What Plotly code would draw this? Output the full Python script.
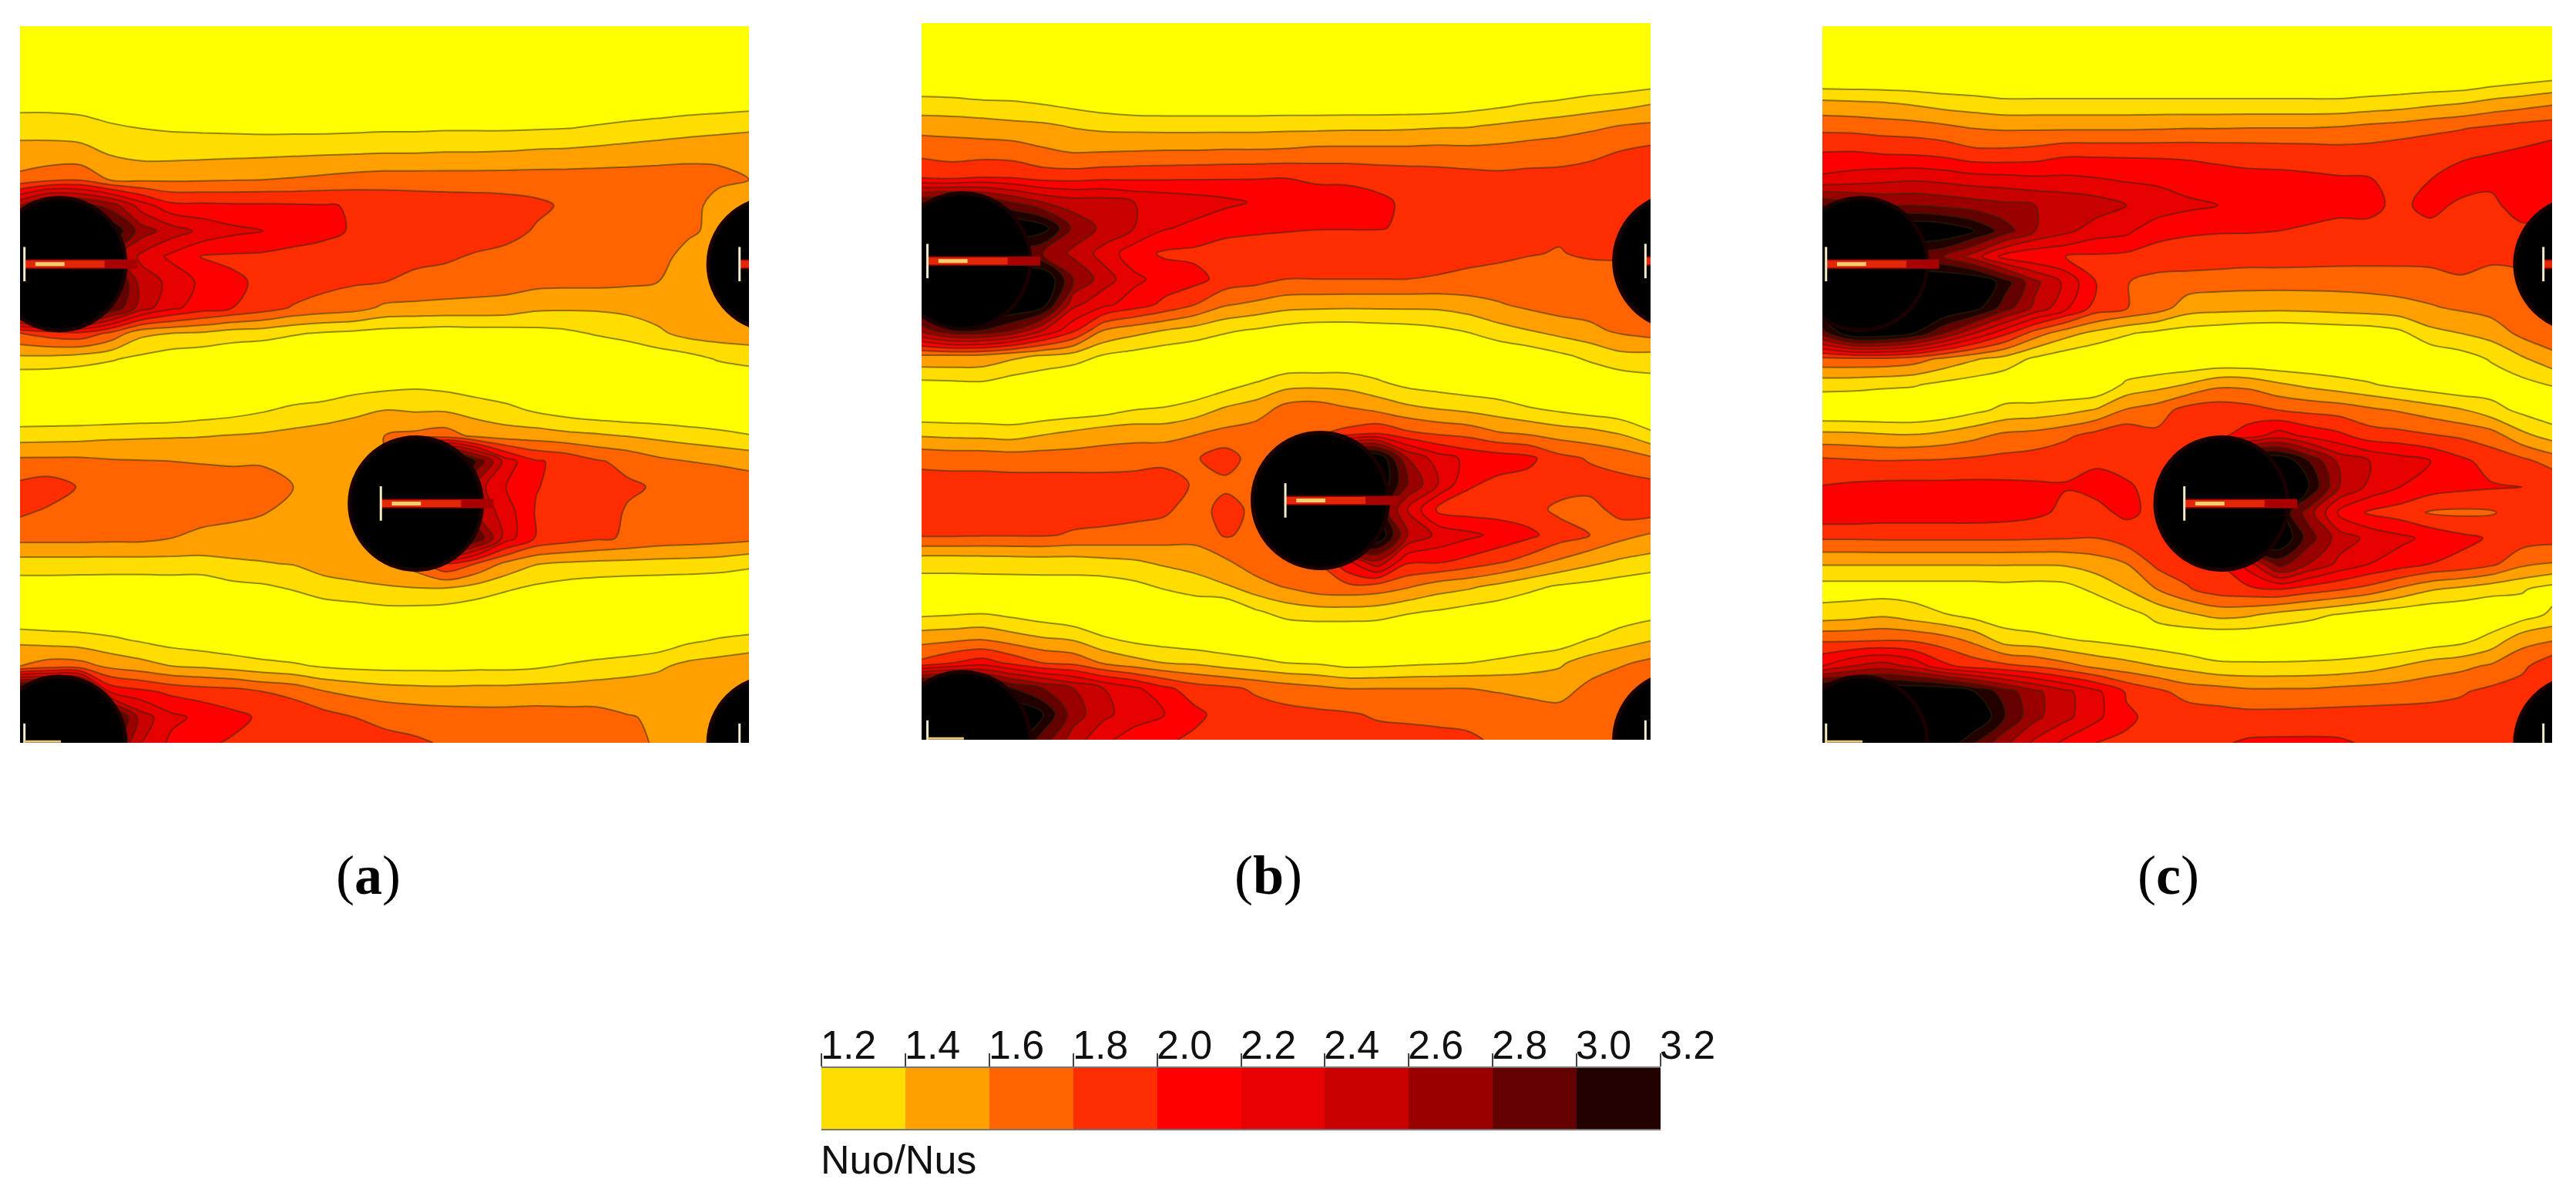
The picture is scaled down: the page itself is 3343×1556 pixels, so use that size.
import numpy as np
import plotly.graph_objects as go

W, H = 3343, 1556

# Nuo/Nus contour levels and the legend colours
levels = [1.2, 1.4, 1.6, 1.8, 2.0, 2.2, 2.4, 2.6, 2.8, 3.0, 3.2]
tick_labels = ["1.2", "1.4", "1.6", "1.8", "2.0", "2.2", "2.4", "2.6", "2.8", "3.0", "3.2"]
band_colors = ["#FFFF00", "#FFDD00", "#FFA000", "#FF6400", "#FF2D00", "#FF0000",
               "#E60000", "#C80000", "#9B0000", "#640000", "#220000", "#000000"]
bar_mids = [1.3, 1.5, 1.7, 1.9, 2.1, 2.3, 2.5, 2.7, 2.9, 3.1]

# Values, Nuo/Nus x 100, 29 rows (top to bottom) by 25 columns
z_a = [
    [100] * 25,
    [100] * 25,
    [100] * 25,
    [112, 112, 110, 105, 102] + [100] * 14 + [102, 103, 105, 108, 110, 112],
    [133, 133, 131, 124, 120, 118, 117, 116, 115, 115, 115, 116, 117, 117, 118, 118, 118, 119, 120, 123, 127, 130, 133, 135, 137],
    [148, 148, 147, 139, 134, 134, 135, 136, 137, 138, 139, 140, 141, 141, 142, 142, 143, 145, 146, 148, 150, 152, 154, 156, 158],
    [166, 175, 178, 158, 157, 157, 158, 159, 160, 162, 165, 168, 170, 170, 170, 170, 170, 170, 170, 170, 170, 170, 170, 165, 160],
    [260, 300, 290, 270, 230, 205, 204, 203, 203, 202, 201, 199, 195, 193, 191, 190, 188, 184, 177, 172, 170, 170, 170, 150, 155],
    [345, 345, 345, 320, 270, 250, 235, 225, 220, 210, 205, 198, 195, 193, 192, 190, 187, 178, 172, 170, 170, 170, 165, 152, 150],
    [300, 300, 290, 270, 235, 215, 199, 197, 196, 194, 192, 190, 187, 185, 183, 178, 174, 172, 170, 170, 170, 170, 150, 150, 150],
    [340, 345, 345, 320, 250, 235, 215, 203, 197, 194, 186, 182, 180, 175, 172, 170, 168, 166, 165, 165, 163, 160, 150, 150, 150],
    [330, 345, 345, 300, 250, 225, 210, 200, 190, 178, 172, 168, 156, 155, 154, 153, 152, 144, 143, 143, 145, 150, 148, 150, 152],
    [180, 190, 195, 175, 145, 140, 137, 130, 128, 122, 118, 115, 112, 110, 108, 110, 110, 113, 116, 122, 128, 136, 147, 150, 150],
    [134, 133, 128, 122, 115, 108, 105, 103, 100, 100, 100, 100, 100, 100, 100, 100, 100, 100, 100, 100, 102, 108, 112, 122, 128],
    [100] * 10 + [105, 110, 113, 116, 113, 108, 103] + [100] * 8,
    [100, 100, 100, 100, 102, 103, 108, 112, 118, 125, 128, 135, 140, 138, 138, 132, 126, 117, 110, 105, 103, 102, 100, 100, 100],
    [131, 132, 133, 136, 137, 138, 139, 141, 143, 146, 150, 152, 160, 165, 170, 155, 150, 150, 146, 143, 139, 135, 131, 126, 121],
    [165, 165, 165, 162, 161, 160, 159, 158, 158, 155, 150, 155, 160, 260, 345, 300, 230, 202, 195, 182, 175, 165, 160, 158, 154],
    [185, 190, 178, 170, 168, 168, 168, 168, 168, 160, 150, 155, 220, 345, 320, 250, 220, 201, 193, 188, 183, 178, 172, 170, 170],
    [183, 176, 178, 170, 168, 168, 167, 165, 161, 155, 150, 155, 220, 340, 320, 260, 230, 198, 192, 190, 178, 172, 176, 172, 170],
    [166, 166, 166, 165, 165, 160, 155, 152, 150, 148, 148, 150, 160, 345, 345, 300, 230, 198, 190, 183, 178, 172, 170, 168, 165],
    [131, 131, 131, 131, 131, 132, 133, 137, 139, 141, 147, 150, 155, 170, 200, 180, 155, 141, 137, 135, 134, 133, 132, 130, 125],
    [107, 107, 106, 105, 105, 105, 103, 112, 115, 121, 132, 135, 137, 138, 137, 130, 122, 115, 110, 107, 105, 104, 103, 102, 100],
    [100] * 11 + [105, 110, 110, 108, 105] + [100] * 9,
    [136, 132, 129, 124, 118, 112, 108, 104] + [100] * 12 + [102, 106, 116, 122, 126],
    [160, 170, 168, 155, 148, 140, 137, 132, 127, 123, 118, 115, 114, 114, 114, 115, 115, 117, 122, 127, 131, 136, 146, 150, 155],
    [345, 345, 335, 215, 205, 195, 190, 188, 180, 175, 161, 155, 150, 148, 147, 148, 148, 150, 150, 151, 152, 153, 154, 155, 155],
    [345, 345, 345, 320, 250, 225, 215, 205, 197, 192, 188, 180, 175, 172, 170, 168, 168, 168, 167, 166, 161, 158, 155, 155, 155],
    [345, 345, 340, 290, 240, 215, 203, 198, 195, 192, 190, 188, 186, 183, 178, 175, 172, 170, 170, 168, 165, 158, 158, 158, 158],
]

z_b = [
    [100] * 25,
    [100] * 25,
    [100] * 25,
    [123, 122, 120, 119, 115, 110, 105] + [100] * 11 + [105, 110, 116, 120, 124, 128, 135],
    [151, 150, 148, 145, 143, 138, 134, 133, 132, 132, 132, 132, 133, 133, 134, 134, 135, 137, 138, 142, 146, 150, 155, 160, 163],
    [174, 172, 171, 170, 163, 158, 159, 160, 161, 161, 162, 162, 163, 166, 166, 166, 166, 167, 166, 167, 170, 172, 176, 180, 185],
    [195, 191, 198, 196, 190, 190, 193, 194, 195, 196, 197, 198, 199, 195, 195, 192, 190, 188, 186, 184, 185, 185, 186, 187, 188],
    [300, 310, 300, 280, 260, 250, 250, 240, 235, 230, 225, 218, 215, 212, 210, 205, 196, 190, 187, 186, 186, 186, 186, 190, 190],
    [345, 345, 345, 345, 330, 275, 255, 240, 222, 215, 205, 203, 202, 201, 201, 201, 198, 190, 187, 185, 184, 183, 183, 185, 185],
    [320, 320, 310, 290, 280, 255, 232, 208, 197, 195, 193, 192, 190, 188, 187, 186, 185, 185, 184, 183, 181, 179, 183, 183, 183],
    [345, 345, 345, 345, 345, 280, 250, 225, 212, 207, 192, 188, 180, 180, 180, 180, 180, 179, 177, 175, 172, 170, 170, 172, 172],
    [320, 345, 345, 345, 330, 245, 225, 210, 195, 180, 162, 155, 148, 147, 146, 146, 146, 146, 151, 158, 165, 170, 170, 170, 170],
    [270, 300, 300, 280, 240, 205, 160, 148, 140, 132, 123, 118, 112, 108, 108, 110, 112, 116, 122, 133, 140, 148, 155, 164, 170],
    [157, 157, 155, 145, 138, 131, 118, 112, 106, 103] + [100] * 9 + [102, 108, 116, 125, 135, 135],
    [118, 119, 120, 112, 105] + [100] * 5 + [108, 119, 129, 130, 130, 122, 112, 108, 105, 103, 100, 100, 104, 108, 113],
    [100] * 5 + [103, 106, 116, 120, 127, 140, 148, 165, 168, 160, 152, 143, 137, 132, 127, 120, 113, 107, 103, 100],
    [134, 132, 131, 129, 137, 143, 150, 152, 151, 158, 165, 170, 175, 178, 185, 195, 183, 176, 172, 161, 156, 150, 146, 138, 122],
    [174, 172, 172, 170, 170, 170, 170, 172, 175, 178, 190, 170, 175, 345, 345, 345, 260, 230, 215, 210, 205, 186, 178, 172, 163],
    [188, 188, 188, 188, 188, 188, 188, 188, 188, 178, 175, 175, 230, 345, 345, 345, 280, 240, 203, 195, 192, 190, 188, 186, 184],
    [188, 188, 188, 188, 188, 188, 188, 186, 184, 170, 188, 175, 230, 340, 260, 300, 240, 195, 190, 190, 188, 175, 172, 188, 190],
    [183, 183, 182, 182, 182, 178, 176, 174, 170, 168, 182, 175, 175, 345, 345, 345, 260, 235, 225, 215, 205, 190, 180, 167, 158],
    [130, 130, 131, 132, 133, 133, 136, 139, 145, 148, 158, 172, 172, 180, 220, 260, 205, 205, 195, 185, 172, 158, 147, 138, 133],
    [110, 110, 110, 110, 110, 110, 110, 115, 123, 132, 138, 152, 162, 172, 175, 172, 163, 150, 144, 135, 125, 118, 114, 110, 105],
    [113, 115, 117, 112, 106] + [100] * 6 + [117, 128, 132, 132, 130, 122, 118, 112, 108, 105, 102, 100, 107, 112],
    [150, 152, 155, 147, 140, 135, 121, 112, 108, 104, 102] + [100] * 9 + [102, 105, 118, 128, 136],
    [185, 200, 210, 195, 180, 175, 158, 148, 140, 137, 130, 125, 120, 118, 112, 113, 116, 118, 120, 124, 130, 137, 150, 157, 165],
    [345, 345, 330, 300, 280, 260, 240, 225, 205, 190, 185, 177, 170, 165, 160, 160, 160, 160, 160, 158, 155, 152, 165, 175, 175],
    [345, 345, 345, 345, 320, 270, 245, 230, 220, 205, 192, 188, 186, 184, 182, 178, 177, 176, 176, 170, 168, 167, 166, 170, 170],
    [345, 345, 345, 330, 290, 250, 225, 210, 203, 196, 194, 192, 190, 190, 188, 186, 185, 184, 182, 178, 172, 172, 172, 172, 172],
]

z_c = [
    [100] * 25,
    [100] * 25,
    [100] * 22 + [105, 110, 115],
    [145, 143, 141, 137, 131, 128, 124, 124, 124, 124, 124, 124, 124, 124, 124, 124, 124, 124, 127, 130, 135, 139, 146, 151, 157],
    [176, 175, 172, 170, 166, 160, 158, 158, 158, 158, 158, 159, 160, 160, 161, 161, 161, 163, 167, 170, 175, 179, 184, 189, 192],
    [202, 203, 200, 199, 195, 187, 187, 190, 197, 197, 197, 197, 197, 196, 195, 194, 193, 190, 190, 194, 196, 198, 200, 204, 210],
    [225, 230, 235, 238, 235, 230, 228, 225, 225, 222, 218, 215, 210, 206, 204, 204, 203, 202, 201, 195, 200, 205, 205, 205, 205],
    [300, 290, 280, 280, 275, 270, 265, 260, 255, 250, 240, 235, 225, 220, 205, 204, 203, 202, 202, 198, 203, 198, 195, 210, 205],
    [345, 345, 345, 345, 340, 320, 290, 260, 245, 230, 225, 205, 202, 201, 201, 200, 199, 198, 198, 192, 197, 195, 190, 195, 195],
    [300, 305, 300, 290, 280, 250, 212, 203, 200, 197, 195, 194, 193, 192, 190, 190, 189, 188, 187, 186, 186, 185, 184, 184, 184],
    [345, 345, 345, 345, 345, 345, 310, 265, 235, 200, 181, 172, 170, 168, 167, 167, 167, 167, 168, 170, 172, 178, 172, 175, 175],
    [345, 345, 345, 345, 345, 330, 290, 255, 225, 192, 181, 170, 150, 147, 146, 145, 146, 148, 150, 153, 158, 163, 168, 175, 175],
    [290, 340, 340, 320, 280, 240, 205, 170, 148, 134, 122, 115, 110, 107, 103, 102, 104, 106, 108, 115, 134, 140, 148, 165, 175],
    [175, 176, 176, 170, 155, 142, 132, 116, 106] + [100] * 11 + [102, 110, 122, 137, 152],
    [128, 127, 124, 122, 115, 110, 105, 100, 100, 100, 124, 132, 141, 155, 154, 143, 135, 128, 122, 114, 108, 103, 108, 113, 121],
    [100, 100, 100, 100, 105, 115, 125, 128, 133, 142, 162, 170, 188, 192, 188, 180, 175, 172, 164, 158, 150, 142, 128, 115, 105],
    [147, 146, 143, 142, 147, 155, 165, 168, 176, 188, 195, 185, 190, 195, 210, 230, 215, 205, 190, 187, 182, 177, 170, 146, 132],
    [185, 183, 181, 182, 183, 185, 187, 190, 196, 198, 195, 190, 195, 345, 345, 345, 300, 255, 240, 230, 220, 205, 192, 186, 172],
    [201, 204, 206, 206, 206, 206, 205, 203, 201, 205, 202, 195, 230, 345, 345, 340, 320, 260, 235, 220, 210, 205, 202, 200, 198],
    [215, 215, 212, 212, 212, 212, 210, 205, 195, 195, 204, 195, 230, 330, 280, 320, 270, 215, 197, 190, 178, 176, 178, 190, 195],
    [182, 182, 183, 183, 183, 183, 183, 182, 181, 180, 190, 195, 195, 345, 345, 345, 290, 250, 235, 225, 215, 205, 198, 190, 187],
    [142, 142, 142, 142, 142, 142, 142, 142, 143, 150, 160, 185, 190, 195, 230, 290, 260, 235, 220, 210, 200, 195, 185, 165, 159],
    [110, 110, 110, 110, 110, 110, 112, 110, 112, 125, 140, 160, 178, 190, 195, 200, 190, 182, 172, 156, 142, 135, 127, 122, 112],
    [129, 132, 137, 129, 121, 113, 107, 103, 100, 100, 112, 125, 136, 146, 143, 133, 126, 118, 110, 106, 103, 102, 102, 110, 124],
    [178, 178, 180, 178, 170, 155, 132, 128, 122, 118, 113, 108, 103] + [100] * 6 + [102, 108, 114, 128, 153, 159],
    [220, 240, 250, 235, 205, 192, 185, 178, 167, 155, 148, 140, 133, 125, 124, 124, 125, 127, 132, 140, 150, 155, 163, 175, 195],
    [345, 345, 345, 345, 345, 320, 290, 265, 245, 225, 198, 185, 172, 170, 165, 165, 165, 168, 170, 172, 174, 178, 185, 190, 190],
    [345, 345, 345, 345, 345, 345, 300, 265, 245, 225, 203, 195, 192, 188, 187, 187, 188, 188, 188, 188, 188, 188, 190, 190, 190],
    [345, 345, 345, 345, 340, 300, 265, 235, 215, 200, 197, 196, 195, 197, 203, 204, 204, 203, 197, 195, 195, 195, 195, 195, 195],
]

# jet slots: the light bar in each hole, x and y as a fraction of the panel
jets_x_a = [0.006, 0.495, 0.987]
jets_x_b = [0.008, 0.499, 0.993]
jets_x_c = [0.005, 0.496, 0.988]
jets_y = [0.332, 0.666, 0.332]
# black holes around the jets
holes_x_a = [0.054, 0.543, 1.035, 0.054, 1.035]
holes_x_b = [0.056, 0.547, 1.043, 0.056, 1.043]
holes_x_c = [0.053, 0.547, 1.040, 0.053, 1.040]
holes_y = [0.332, 0.666, 0.332, 1.0, 1.0]
panel_names = ["a", "b", "c"]

# panel boxes in page pixels: left, right, top, bottom
boxes = [(26, 972, 34, 964), (1196, 2142, 30, 960), (2365, 3312, 34, 964)]
label_x = [478, 1646, 2814]
hole_px = [172, 176, 172]

xs = np.linspace(0, 1, 25)
ys = np.linspace(0, 1, 29)

# stepped colour scale so every 0.2 band gets one flat colour
zmin, zmax = 1.0, 3.4
colorscale = []
for i, c in enumerate(band_colors):
    colorscale.append([i / len(band_colors), c])
    colorscale.append([(i + 1) / len(band_colors), c])


def add_seg(x, y, color, width, xa, ya):
    fig.add_trace(go.Scatter(x=x, y=y, mode="lines", line=dict(color=color, width=width),
                             xaxis=xa, yaxis=ya, showlegend=False, hoverinfo="skip"))


fig = go.Figure()

all_z = [z_a, z_b, z_c]
all_jets = [jets_x_a, jets_x_b, jets_x_c]
all_holes = [holes_x_a, holes_x_b, holes_x_c]
for n in range(3):
    suffix = "" if n == 0 else str(n + 1)
    xa, ya = "x" + suffix, "y" + suffix
    fig.add_trace(go.Contour(
        x=xs, y=ys, z=np.array(all_z[n]) / 100,
        zmin=zmin, zmax=zmax, colorscale=colorscale, showscale=False,
        contours=dict(start=1.2, end=3.2, size=0.2, coloring="fill", showlines=True),
        line=dict(color="rgba(40,40,0,0.5)", width=2, smoothing=1),
        xaxis=xa, yaxis=ya, hoverinfo="skip",
    ))
    fig.add_trace(go.Scatter(
        x=all_holes[n], y=holes_y, mode="markers",
        marker=dict(color="black", size=hole_px[n], line=dict(color="#1A0000", width=5)),
        xaxis=xa, yaxis=ya, showlegend=False, hoverinfo="skip",
    ))
    # hot streak behind each slot, then the slot itself
    for jx, jy in zip(all_jets[n], jets_y):
        add_seg([jx, min(jx + 0.155, 1)], [jy, jy], "#A80000", 12, xa, ya)
        add_seg([jx, min(jx + 0.11, 1)], [jy, jy], "#E02808", 9, xa, ya)
        add_seg([min(jx + 0.015, 1), min(jx + 0.055, 1)], [jy, jy], "#F2D070", 5, xa, ya)
        add_seg([jx, jx], [jy - 0.024, jy + 0.024], "#F3EBC8", 3, xa, ya)
    # the half slots on the bottom edge
    for jx in [all_jets[n][0], all_jets[n][2]]:
        add_seg([jx, jx], [0.973, 1.0], "#F3EBC8", 3, xa, ya)
    add_seg([all_jets[n][0], all_jets[n][0] + 0.05], [0.998, 0.998], "#E8C878", 3, xa, ya)

# colour bar as its own little heatmap so the ticks can sit on top
fig.add_trace(go.Heatmap(x=levels, y=[0, 1], z=[bar_mids], zmin=zmin, zmax=zmax,
                         colorscale=colorscale, showscale=False,
                         xaxis="x4", yaxis="y4", hoverinfo="skip"))

layout = dict(
    width=W, height=H, margin=dict(l=0, r=0, t=0, b=0),
    paper_bgcolor="white", plot_bgcolor="white", showlegend=False,
)
for n, (l, r, t, b) in enumerate(boxes):
    suffix = "" if n == 0 else str(n + 1)
    layout["xaxis" + suffix] = dict(domain=[l / W, r / W], range=[0, 1], visible=False)
    layout["yaxis" + suffix] = dict(domain=[1 - b / H, 1 - t / H], range=[1, 0], visible=False)

layout["xaxis4"] = dict(domain=[1066 / W, 2155 / W], range=[1.2, 3.2], side="top", anchor="y4",
                        tickvals=levels, ticktext=[""] * len(levels), ticks="outside", ticklen=17,
                        tickwidth=2, tickcolor="#444", showline=True, linecolor="#777",
                        linewidth=2, mirror=True, showgrid=False, zeroline=False)
layout["yaxis4"] = dict(domain=[1 - 1465 / H, 1 - 1386 / H], range=[0, 1], anchor="x4",
                        visible=False)
fig.update_layout(**layout)

# tick labels sit just right of their ticks, so annotations rather than axis labels
for v, t in zip(levels, tick_labels):
    fig.add_annotation(x=v, xref="x4", y=1 - 1381 / H, yref="paper", text=t, showarrow=False,
                       xanchor="left", yanchor="bottom", xshift=-3, yshift=-6,
                       font=dict(family="Liberation Sans", size=52, color="#111"))
fig.add_annotation(x=1066 / W, xref="paper", y=1 - 1505 / H, yref="paper", text="Nuo/Nus",
                   showarrow=False, xanchor="left", yanchor="middle", xshift=-3,
                   font=dict(family="Liberation Sans", size=52, color="#111"))

for name, lx in zip(panel_names, label_x):
    fig.add_annotation(x=lx / W, xref="paper", y=1 - 1136 / H, yref="paper",
                       text=f"(<b>{name}</b>)", showarrow=False,
                       xanchor="center", yanchor="middle",
                       font=dict(family="Liberation Serif", size=72, color="black"))

fig.write_html("out.html", config={"displayModeBar": False},
               post_script="document.body.style.margin='0';")
